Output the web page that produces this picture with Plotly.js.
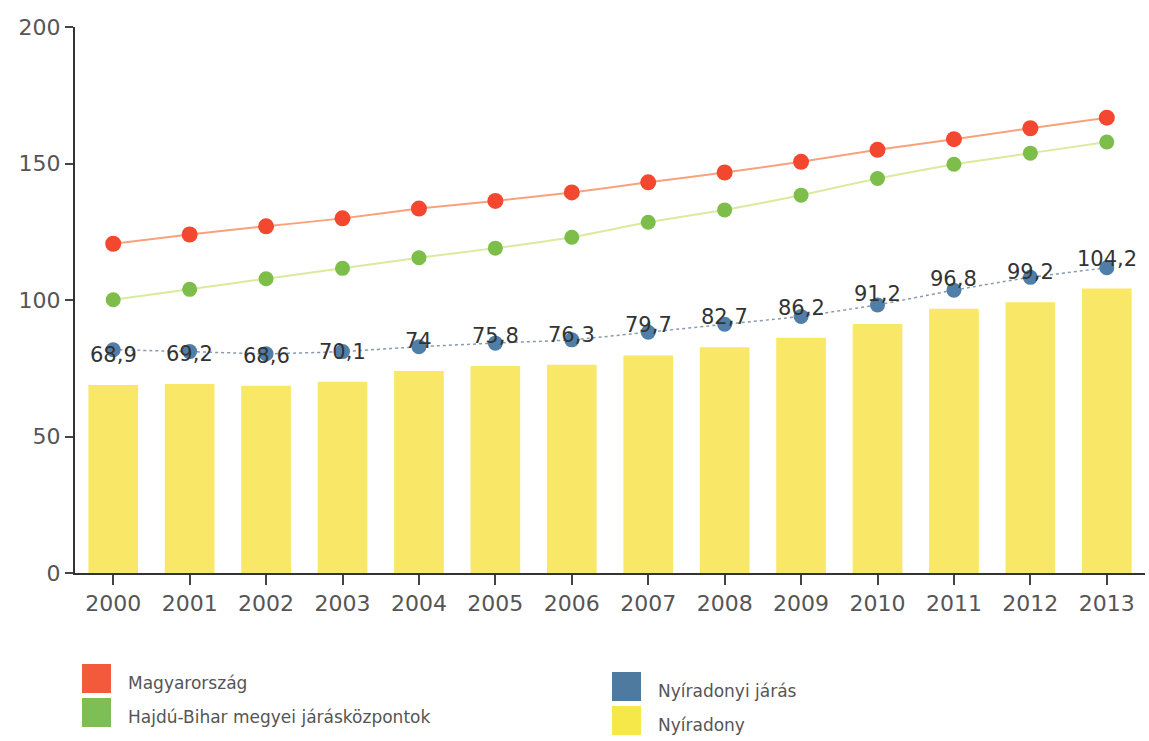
<!DOCTYPE html>
<html>
<head>
<meta charset="utf-8">
<script src="https://cdn.plot.ly/plotly-3.0.1.min.js"></script>
<style>html,body{margin:0;padding:0;background:#fff;}#chart{width:1149px;height:741px;}</style>
</head>
<body>
<div id="chart"></div>
<script>
const years = ['2000','2001','2002','2003','2004','2005','2006','2007','2008','2009','2010','2011','2012','2013'];
const magyarorszag = [120.6,124.0,127.0,129.9,133.5,136.3,139.4,143.1,146.7,150.6,155.0,158.9,162.9,166.8];
const hajduBihar = [100.1,103.9,107.8,111.6,115.5,119.0,123.0,128.5,133.0,138.4,144.5,149.7,153.8,157.9];
const nyiradonyiJaras = [81.8,81.1,80.3,81.1,82.9,84.2,85.4,88.2,91.1,94.0,98.2,103.6,108.3,111.8];
const nyiradony = [68.9,69.2,68.6,70.1,74,75.8,76.3,79.7,82.7,86.2,91.2,96.8,99.2,104.2];
const seriesNames = ['Magyarország','Hajdú-Bihar megyei járásközpontok','Nyíradonyi járás','Nyíradony'];
const yTicks = [0,50,100,150,200];

const fmt = v => String(v).replace('.', ',');

const traces = [
  {type:'bar', x:years, y:nyiradony, name:seriesNames[3], marker:{color:'#f9e867'}, hoverinfo:'skip'},
  {type:'scatter', mode:'lines+markers', x:years, y:nyiradonyiJaras, name:seriesNames[2],
   line:{color:'#8a9aae', width:1.5, dash:'dot', shape:'spline', smoothing:0.4},
   marker:{color:'#4f7fa8', size:15}},
  {type:'scatter', mode:'lines+markers', x:years, y:hajduBihar, name:seriesNames[1],
   line:{color:'#d9eb9e', width:2, shape:'spline', smoothing:0.4},
   marker:{color:'#7dbd4a', size:15}},
  {type:'scatter', mode:'lines+markers', x:years, y:magyarorszag, name:seriesNames[0],
   line:{color:'#f7a27c', width:2, shape:'spline', smoothing:0.4},
   marker:{color:'#f4472f', size:16}}
];

const annotations = years.map((yr,i) => ({
  x: i, y: nyiradony[i], xref:'x', yref:'y', text: fmt(nyiradony[i]),
  showarrow:false, yanchor:'middle', yshift:30,
  font:{family:'DejaVu Sans, Verdana, sans-serif', size:21, color:'#333'}
}));

// custom legend
const legendItems = [
  {name:seriesNames[0], color:'#f25a3c', x:82, y:664},
  {name:seriesNames[1], color:'#7ebf55', x:82, y:698},
  {name:seriesNames[2], color:'#4e7aa0', x:612, y:672},
  {name:seriesNames[3], color:'#f7e84a', x:612, y:706}
];
const W = 1149, H = 741;
const shapes = legendItems.map(it => ({
  type:'rect', xref:'paper', yref:'paper',
  x0:(it.x-75)/(W-75-4), x1:(it.x+29-75)/(W-75-4),
  y0:(H-168-(it.y+29))/(H-27-168), y1:(H-168-it.y)/(H-27-168),
  fillcolor:it.color, line:{width:0}
}));
legendItems.forEach(it => {
  annotations.push({
    xref:'paper', yref:'paper',
    x:(it.x+44-75)/(W-75-4), y:(H-168-(it.y+19))/(H-27-168),
    xanchor:'left', yanchor:'middle', showarrow:false, text:it.name,
    font:{family:'DejaVu Sans, Verdana, sans-serif', size:17, color:'#555'}
  });
});

const layout = {
  width:W, height:H,
  margin:{l:75, r:4, t:27, b:168},
  paper_bgcolor:'#fff', plot_bgcolor:'#fff',
  showlegend:false,
  bargap:0.35,
  xaxis:{type:'category', range:[-0.5,13.5], showgrid:false, zeroline:false,
    showline:true, linecolor:'#333', linewidth:2,
    ticks:'outside', ticklen:10, tickwidth:2, tickcolor:'#444',
    tickfont:{family:'DejaVu Sans, Verdana, sans-serif', size:22, color:'#555'}},
  yaxis:{range:[0,200], tickvals:yTicks, showgrid:false, zeroline:false,
    showline:true, linecolor:'#333', linewidth:2,
    ticks:'outside', ticklen:8, tickwidth:2, tickcolor:'#444',
    tickfont:{family:'DejaVu Sans, Verdana, sans-serif', size:22, color:'#555'}},
  annotations:annotations,
  shapes:shapes
};

Plotly.newPlot('chart', traces, layout, {displayModeBar:false, staticPlot:true});
</script>
</body>
</html>
